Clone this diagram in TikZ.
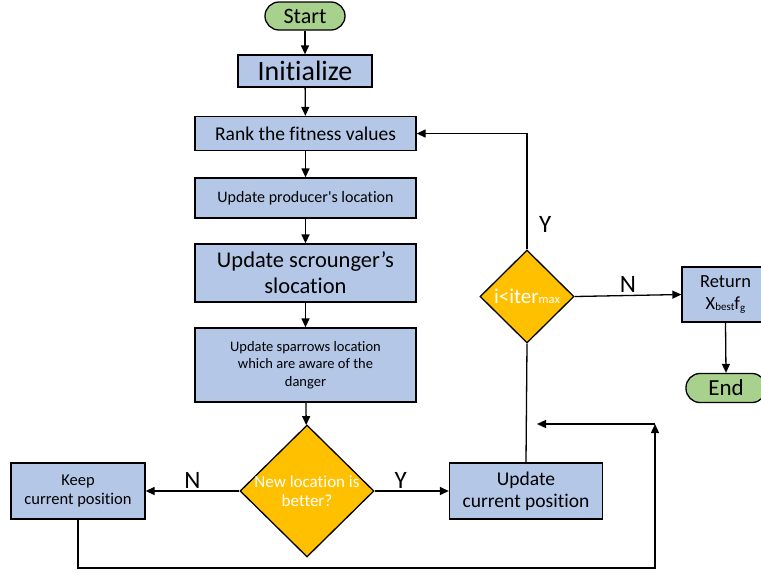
\documentclass[tikz,border=0pt]{standalone}
\usepackage{fontspec}
\setmainfont{Carlito}[Ligatures=NoCommon]
\usetikzlibrary{shapes.geometric,arrows.meta}
\definecolor{boxblue}{HTML}{B4C7E7}
\definecolor{pillgreen}{HTML}{A9D18E}
\definecolor{decor}{HTML}{FFC000}
\newcommand{\fs}[1]{\fontsize{#1}{#1}\selectfont}
\begin{document}
\begin{tikzpicture}[x=1pt,y=-1pt,
  box/.style={draw=black, fill=boxblue, line width=1.3pt, inner sep=0pt, align=center},
  pill/.style={draw=black, fill=pillgreen, line width=1.3pt, inner sep=0pt, rounded corners=14pt},
  dia/.style={draw=black, fill=decor, diamond, line width=1.3pt, inner sep=0pt, aspect=1},
  dtext/.style={text=white, align=center},
  arr/.style={line width=1.3pt, -{Triangle[length=9pt,width=8pt]}},
  ln/.style={line width=1.3pt},
  yn/.style={font=\fs{25}, inner sep=2pt}
]
\useasboundingbox (0,0) rectangle (761,574);
\node[pill, minimum width=80pt, minimum height=28pt, font=\fs{22}] (start) at (305,16) {Start};
\node[box, minimum width=134pt, minimum height=32pt, font=\fs{28}] (init) at (305,71) {Initialize};
\node[box, minimum width=221pt, minimum height=34pt, font=\fs{19.5}] (rank) at (305.5,133.5) {Rank the fitness values};
\node[box, minimum width=221pt, minimum height=40pt, font=\fs{16}] (prod) at (305.5,198) {Update producer\textquotesingle s location};
\node[box, minimum width=221pt, minimum height=58pt, font=\fontsize{22.5}{26}\selectfont] (scr) at (305.5,273) {Update scrounger’s\\slocation};
\node[box, minimum width=221pt, minimum height=74pt, font=\fontsize{14.5}{17.5}\selectfont] (spar) at (305.5,365) {Update sparrows location\\which are aware of the\\danger};
\node[dia, minimum width=134pt, minimum height=132pt] (dec) at (307,491) {};
\node[dtext, font=\fontsize{17}{19}\selectfont] (dect) at (307,491) {New location is\\better?};
\node[box, minimum width=134pt, minimum height=56pt, font=\fontsize{16.5}{19}\selectfont] (keep) at (78,491) {Keep\\current position};
\node[box, minimum width=153pt, minimum height=56pt, font=\fontsize{19.5}{22}\selectfont] (upd) at (526,491) {Update\\current position};
\node[dia, minimum width=94pt, minimum height=93pt] (iter) at (527,296.5) {};
\node[dtext, font=\fs{21}] (itert) at (527,296.5) {i<iter{\fs{12.5}max}};
\node[box, minimum width=87pt, minimum height=55pt, font=\fontsize{18.5}{22}\selectfont] (ret) at (725.5,294.5) {Return\\X\raisebox{-1.5pt}{\fs{11}best}f\raisebox{-2.5pt}{\fs{11}g}};
\node[pill, minimum width=80pt, minimum height=29pt, font=\fs{23}] (end) at (726,388) {End};

\coordinate (lb) at (655,568);
\coordinate (lc) at (655,424);
\coordinate (la) at (537,424);

\draw[arr] (start) -- (init);
\draw[arr] (init) -- (rank);
\draw[arr] (rank) -- (prod);
\draw[arr] (prod) -- (scr);
\draw[arr] (scr) -- (spar);
\draw[arr] (spar) -- (dec);
\draw[arr] (dec.west) -- (keep.east) node[midway, above, yn] (nl) {N};
\draw[arr] (dec.east) -- (upd.west) node[pos=0.35, above, yn] (yl) {Y};
\draw[ln] (upd.north) -- (iter.south);
\draw[arr] (iter.north) |- (rank.east);
\node[yn, anchor=west] (yt) at (537,224) {Y};
\draw[arr] (iter.east) -- (ret.west) node[midway, above, yn] (nr) {N};
\draw[arr] (ret.south) -- (end.north);
\draw[arr] (keep.south) |- (lb) -- (lc);
\draw[arr] (lc) -- (la);
\end{tikzpicture}
\end{document}
